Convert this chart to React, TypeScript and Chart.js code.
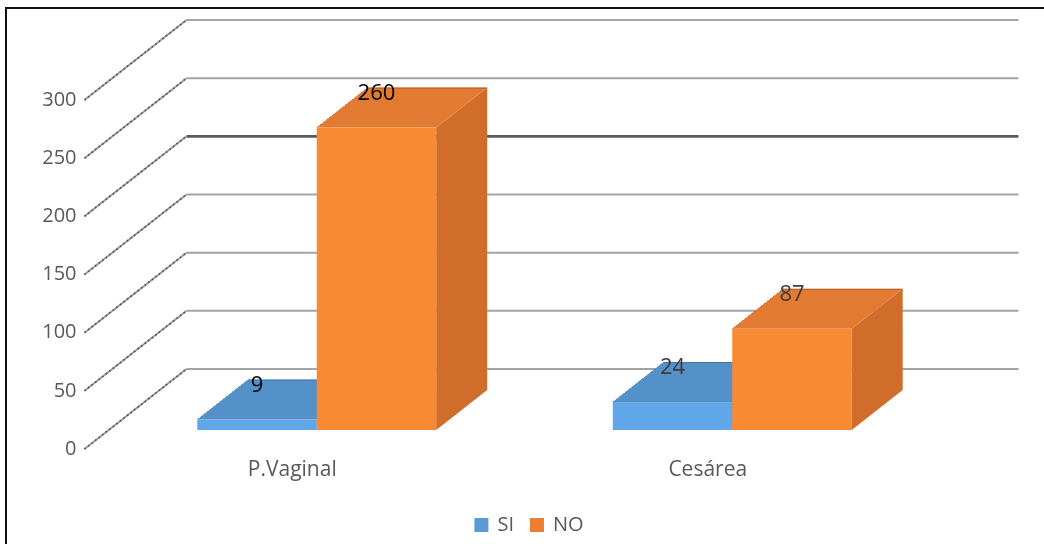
import React, { useEffect, useRef } from 'react';
import { Chart, registerables } from 'chart.js';

Chart.register(...registerables);

// Data
const CATEGORIES = ['P.Vaginal', 'Cesárea'];
const SERIES = ['SI', 'NO'];
const SI_VALUES = [9, 24];
const NO_VALUES = [260, 87];
const Y_TICKS = [0, 50, 100, 150, 200, 250, 300];

// Styling
const FONT = '"Open Sans", Lato, sans-serif';
const AXIS_TEXT = '#595959';
const VALUE_LABEL_COLORS = ['#000000', '#3d3d3d'];
const PALETTES = [
  { front: '#5fa7e9', top: '#5591c9', side: '#4a7fb4', edge: '#2f5f8f' },
  { front: '#f98a35', top: '#e27a31', side: '#d06d2b', edge: '#8a4416' },
];

// Oblique projection offsets, relative to the plane holding the bar fronts
const FRONT = { dx: -24.5, dy: 19 };
const BACK = { dx: 77.5, dy: -61 };
const BAR_DEPTH = { dx: 51, dy: -40 };

const obliquePlugin = {
  id: 'oblique3d',
  beforeDatasetsDraw(chart: any) {
    const { ctx, chartArea, scales } = chart;
    const yScale = scales.y;
    const xScale = scales.x;
    ctx.save();

    // Back wall grid lines, side wall diagonals and tick labels
    Y_TICKS.forEach((v) => {
      const py = yScale.getPixelForValue(v);
      const bx = chartArea.left + BACK.dx;
      const by = py + BACK.dy;
      const fx = chartArea.left + FRONT.dx;
      const fy = py + FRONT.dy;
      const rightX = chartArea.right + BACK.dx + 1;
      const strong = v === 200;

      ctx.lineCap = 'butt';
      ctx.strokeStyle = strong ? '#5a5a5a' : '#a3a3a3';
      ctx.lineWidth = strong ? 2.6 : 2;
      ctx.beginPath();
      ctx.moveTo(bx, by);
      ctx.lineTo(rightX, by);
      ctx.stroke();

      ctx.strokeStyle = '#9a9a9a';
      ctx.lineWidth = 2;
      ctx.beginPath();
      ctx.moveTo(fx, fy);
      ctx.lineTo(bx, by);
      ctx.stroke();
      ctx.setLineDash([1.5, 3]);
      ctx.strokeStyle = '#4e4e4e';
      ctx.lineWidth = 1.6;
      ctx.beginPath();
      ctx.moveTo(fx, fy);
      ctx.lineTo(bx, by);
      ctx.stroke();
      ctx.setLineDash([]);

      ctx.fillStyle = AXIS_TEXT;
      ctx.font = `20px ${FONT}`;
      ctx.textAlign = 'right';
      ctx.textBaseline = 'middle';
      ctx.fillText(String(v), fx - 8, fy);
    });

    // Bars as boxes, category by category so that nearer faces cover hidden ones
    const metas = chart.data.datasets.map((_: any, i: number) => chart.getDatasetMeta(i));
    CATEGORIES.forEach((_, j) => {
      metas.forEach((meta: any, i: number) => {
        const el = meta.data[j];
        const pal = PALETTES[i];
        const left = el.x - el.width / 2;
        const right = el.x + el.width / 2;
        const top = el.y;
        const base = el.base;
        const { dx, dy } = BAR_DEPTH;

        // side
        ctx.fillStyle = pal.side;
        ctx.beginPath();
        ctx.moveTo(right, top);
        ctx.lineTo(right + dx, top + dy);
        ctx.lineTo(right + dx, base + dy);
        ctx.lineTo(right, base);
        ctx.closePath();
        ctx.fill();

        // top
        ctx.fillStyle = pal.top;
        ctx.beginPath();
        ctx.moveTo(left, top);
        ctx.lineTo(right, top);
        ctx.lineTo(right + dx, top + dy);
        ctx.lineTo(left + dx, top + dy);
        ctx.closePath();
        ctx.fill();

        // top edges
        ctx.strokeStyle = pal.edge;
        ctx.globalAlpha = 0.55;
        ctx.lineWidth = 1;
        ctx.setLineDash([2, 2]);
        ctx.beginPath();
        ctx.moveTo(left, top);
        ctx.lineTo(left + dx, top + dy);
        ctx.stroke();
        ctx.setLineDash([]);
        ctx.beginPath();
        ctx.moveTo(left + dx, top + dy + 0.5);
        ctx.lineTo(right + dx, top + dy + 0.5);
        ctx.stroke();
        ctx.globalAlpha = 1;

        // front
        ctx.fillStyle = pal.front;
        ctx.fillRect(left, top, right - left, base - top);
      });
    });

    // Value labels
    metas.forEach((meta: any, i: number) => {
      const values = chart.data.datasets[i].data;
      meta.data.forEach((el: any, j: number) => {
        ctx.fillStyle = VALUE_LABEL_COLORS[j];
        ctx.font = `22px ${FONT}`;
        ctx.textAlign = 'center';
        ctx.textBaseline = 'middle';
        ctx.fillText(String(values[j]), el.x, el.y - 34);
      });
    });

    // Category labels on the front edge of the floor
    CATEGORIES.forEach((c, j) => {
      const cx = xScale.getPixelForValue(j) + FRONT.dx;
      ctx.fillStyle = AXIS_TEXT;
      ctx.font = `21px ${FONT}`;
      ctx.textAlign = 'center';
      ctx.textBaseline = 'middle';
      ctx.fillText(c, cx, chartArea.bottom + FRONT.dy + 21);
    });

    ctx.restore();
    return false;
  },
  afterDraw(chart: any) {
    const { ctx } = chart;
    ctx.save();

    // Legend
    ctx.font = `20px ${FONT}`;
    ctx.textBaseline = 'middle';
    ctx.textAlign = 'left';
    const box = 14;
    const gapBoxText = 9;
    const gapItems = 16;
    const widths = SERIES.map((s) => ctx.measureText(s).width);
    const total = widths.reduce((a, w) => a + box + gapBoxText + w, 0) + gapItems * (SERIES.length - 1);
    let x = 529 - total / 2;
    const ly = 525;
    SERIES.forEach((s, i) => {
      ctx.fillStyle = i === 0 ? '#5b9bd5' : '#ed7d31';
      ctx.fillRect(x, ly - box / 2, box, box);
      x += box + gapBoxText;
      ctx.fillStyle = AXIS_TEXT;
      ctx.fillText(s, x, ly);
      x += widths[i] + gapItems;
    });

    // Frame
    ctx.strokeStyle = '#111111';
    ctx.lineWidth = 2;
    ctx.beginPath();
    ctx.moveTo(6, chart.height);
    ctx.lineTo(6, 8);
    ctx.lineTo(chart.width, 8);
    ctx.stroke();

    ctx.restore();
  },
};

export default function App() {
  const canvasRef = useRef<HTMLCanvasElement | null>(null);

  useEffect(() => {
    if (!canvasRef.current) return;
    const chart = new Chart(canvasRef.current, {
      type: 'bar',
      data: {
        labels: CATEGORIES,
        datasets: [
          { label: SERIES[0], data: SI_VALUES, backgroundColor: '#5b9bd5' },
          { label: SERIES[1], data: NO_VALUES, backgroundColor: '#ed7d31' },
        ],
      },
      options: {
        responsive: false,
        animation: false,
        devicePixelRatio: 1,
        layout: { padding: { left: 109, right: 104, top: 81, bottom: 114 } },
        datasets: { bar: { categoryPercentage: 0.575, barPercentage: 1 } },
        scales: {
          x: { display: false, offset: true },
          y: { display: false, min: 0, max: 300, ticks: { stepSize: 50 } },
        },
        plugins: {
          legend: { display: false },
          tooltip: { enabled: false },
        },
      },
      plugins: [obliquePlugin],
    });
    return () => chart.destroy();
  }, []);

  return (
    <div style={{ position: 'absolute', left: 0, top: 0, width: 1044, height: 544, background: '#ffffff' }}>
      <canvas ref={canvasRef} width={1044} height={544} style={{ display: 'block' }} />
    </div>
  );
}
